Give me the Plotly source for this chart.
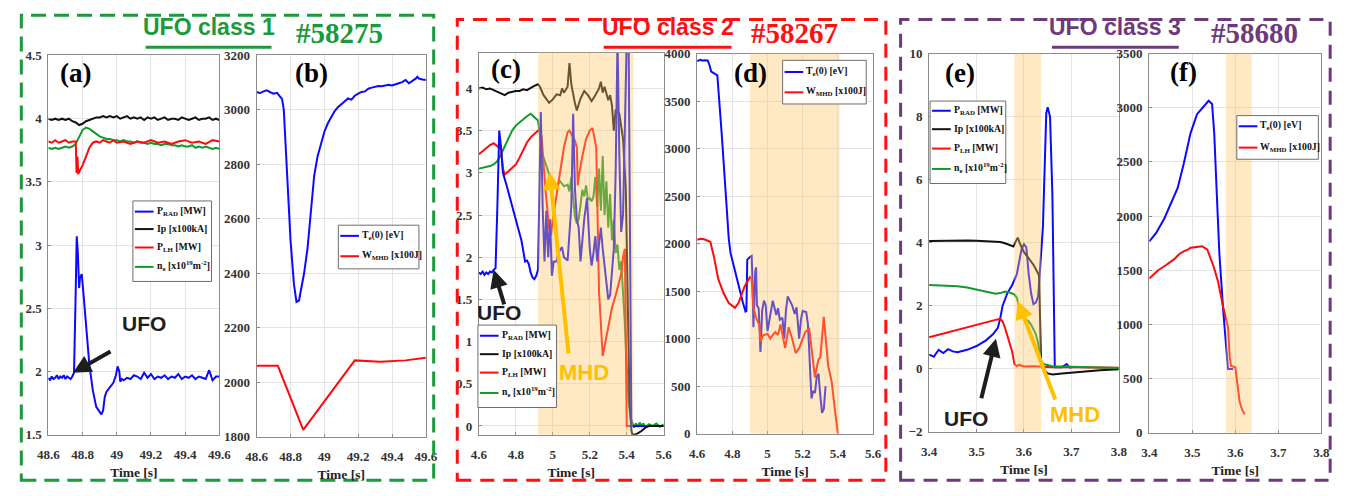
import plotly.graph_objects as go

W, H = 1351, 496

# ---------------- shot #58275 (panels a, b) ----------------
A_PRAD_T = [48.60, 48.61, 48.62, 48.63, 48.64, 48.65, 48.66, 48.67, 48.68, 48.69, 48.70, 48.71, 48.72, 48.73,
            48.74, 48.75, 48.758, 48.766, 48.772, 48.78, 48.785, 48.795, 48.80, 48.82, 48.84, 48.86, 48.88,
            48.90, 48.91, 48.92, 48.93, 48.94, 48.96, 48.98, 48.995, 49.005, 49.015, 49.02, 49.03, 49.04,
            49.06, 49.08, 49.10, 49.12, 49.14, 49.16, 49.18, 49.20, 49.22, 49.24, 49.26, 49.28, 49.30,
            49.32, 49.34, 49.36, 49.38, 49.40, 49.42, 49.44, 49.46, 49.48, 49.50, 49.52, 49.54, 49.56,
            49.58, 49.60]
A_PRAD = [1.95, 1.93, 1.96, 1.94, 1.95, 1.97, 1.94, 1.96, 1.95, 1.97, 1.94, 1.96, 1.95, 1.94,
          1.96, 1.99, 2.50, 3.07, 2.95, 2.66, 2.74, 2.77, 2.70, 2.35, 2.05, 1.85, 1.72,
          1.68, 1.66, 1.69, 1.80, 1.84, 1.88, 1.91, 1.97, 2.04, 2.00, 1.92, 1.94, 1.93,
          1.95, 1.94, 1.97, 1.96, 1.94, 1.99, 1.95, 1.98, 1.94, 1.96, 1.95, 1.97, 1.94,
          1.96, 1.95, 1.98, 1.94, 1.96, 1.95, 1.97, 1.94, 1.96, 1.95, 1.94, 2.01, 1.93,
          1.96, 1.96]

A_T = [48.60, 48.62, 48.64, 48.66, 48.68, 48.70, 48.72, 48.74, 48.76, 48.78, 48.80, 48.82, 48.84, 48.86,
       48.88, 48.90, 48.92, 48.94, 48.96, 48.98, 49.00, 49.02, 49.04, 49.06, 49.08, 49.10, 49.12, 49.14,
       49.16, 49.18, 49.20, 49.22, 49.24, 49.26, 49.28, 49.30, 49.32, 49.34, 49.36, 49.38, 49.40, 49.42,
       49.44, 49.46, 49.48, 49.50, 49.52, 49.54, 49.56, 49.58, 49.60]
A_IP = [4.00, 3.99, 4.00, 3.99, 4.00, 3.99, 4.00, 3.98, 3.97, 3.95, 3.96, 3.98, 3.99, 4.00,
        4.01, 4.01, 4.02, 4.01, 4.02, 4.01, 4.02, 4.00, 4.01, 4.02, 4.00, 4.01, 4.00, 4.01,
        3.99, 4.01, 4.00, 4.01, 3.99, 4.00, 4.01, 3.99, 4.00, 4.00, 3.99, 4.01, 4.00, 3.99,
        4.00, 4.01, 3.99, 4.00, 4.00, 4.01, 3.99, 4.00, 3.99]
A_NE = [3.77, 3.76, 3.77, 3.76, 3.77, 3.78, 3.77, 3.78, 3.80, 3.86, 3.91, 3.93, 3.92, 3.90,
        3.88, 3.86, 3.85, 3.84, 3.84, 3.83, 3.83, 3.82, 3.83, 3.82, 3.82, 3.81, 3.82, 3.81,
        3.81, 3.80, 3.81, 3.80, 3.80, 3.79, 3.80, 3.80, 3.79, 3.79, 3.78, 3.79, 3.78, 3.78,
        3.79, 3.77, 3.78, 3.77, 3.78, 3.77, 3.76, 3.77, 3.76]

A_PLH_T = [48.60, 48.62, 48.64, 48.66, 48.68, 48.70, 48.72, 48.74, 48.76, 48.765, 48.77, 48.775, 48.78,
           48.80, 48.82, 48.84, 48.86, 48.88, 48.90, 48.92, 48.94, 48.96, 48.98, 49.00, 49.04, 49.08,
           49.12, 49.16, 49.20, 49.24, 49.28, 49.32, 49.36, 49.40, 49.44, 49.48, 49.52, 49.56, 49.60]
A_PLH = [3.82, 3.81, 3.83, 3.81, 3.82, 3.83, 3.81, 3.82, 3.82, 3.57, 3.70, 3.56, 3.58,
         3.63, 3.70, 3.77, 3.81, 3.82, 3.81, 3.83, 3.82, 3.81, 3.83, 3.81, 3.82, 3.80,
         3.82, 3.81, 3.83, 3.81, 3.82, 3.80, 3.82, 3.83, 3.81, 3.82, 3.80, 3.83, 3.82]

B_TE_T = [48.60, 48.62, 48.64, 48.66, 48.68, 48.70, 48.72, 48.74, 48.75, 48.76, 48.78, 48.80, 48.82,
          48.835, 48.85, 48.86, 48.88, 48.90, 48.92, 48.94, 48.96, 48.98, 49.00, 49.02, 49.04, 49.06,
          49.08, 49.10, 49.12, 49.14, 49.16, 49.18, 49.20, 49.22, 49.24, 49.26, 49.28, 49.30, 49.32,
          49.34, 49.36, 49.38, 49.40, 49.42, 49.44, 49.46, 49.48, 49.50, 49.52, 49.54, 49.55, 49.56,
          49.58, 49.60]
B_TE = [3065, 3062, 3068, 3072, 3065, 3060, 3063, 3048, 3040, 3000, 2750, 2520, 2360,
        2295, 2300, 2330, 2400, 2490, 2620, 2760, 2830, 2880, 2920, 2950, 2975, 2995,
        3010, 3020, 3030, 3042, 3038, 3052, 3060, 3066, 3068, 3078, 3082, 3085, 3088,
        3087, 3090, 3092, 3090, 3095, 3098, 3102, 3110, 3098, 3105, 3115, 3122, 3115,
        3112, 3110]
B_WMHD_T = [48.60, 48.725, 48.875, 49.18, 49.33, 49.48, 49.60]
B_WMHD = [2060, 2060, 1825, 2080, 2075, 2080, 2090]

# ---------------- shot #58267 (panels c, d) ----------------
C_IP_T = [4.60, 4.62, 4.64, 4.66, 4.68, 4.70, 4.72, 4.74, 4.76, 4.78, 4.80, 4.82, 4.84, 4.86, 4.88,
          4.90, 4.92, 4.93, 4.95, 4.97, 4.98, 5.00, 5.02, 5.04, 5.05, 5.06, 5.08, 5.09, 5.10, 5.12,
          5.13, 5.15, 5.17, 5.19, 5.21, 5.23, 5.25, 5.26, 5.27, 5.28, 5.30, 5.31, 5.32, 5.33, 5.34,
          5.36, 5.38, 5.395, 5.405, 5.415, 5.425, 5.43, 5.45, 5.48, 5.50, 5.52, 5.56, 5.60]
C_IP = [4.00, 4.01, 3.99, 4.00, 3.98, 3.96, 3.94, 3.92, 3.95, 3.96, 3.97, 3.97, 3.99, 3.98, 4.01,
        4.03, 4.05, 4.02, 3.92, 3.86, 3.83, 3.87, 3.93, 3.92, 4.00, 3.95, 4.02, 4.30, 4.05, 3.82,
        3.74, 3.88, 3.97, 3.92, 3.85, 3.92, 4.00, 4.08, 3.95, 4.02, 3.86, 3.92, 3.80, 3.50, 3.75,
        3.70, 3.40, 2.80, 1.50, 0.30, -0.05, -0.10, -0.10, -0.06, -0.02, 0.00, 0.00, 0.00]

C_NE_T = [4.60, 4.62, 4.64, 4.66, 4.68, 4.70, 4.72, 4.74, 4.76, 4.78, 4.80, 4.82, 4.84, 4.86, 4.88,
          4.90, 4.92, 4.93, 4.94, 4.95, 4.96, 4.97, 4.98, 4.99, 5.00, 5.02, 5.04, 5.06, 5.08, 5.09,
          5.10, 5.11, 5.12, 5.13, 5.14, 5.15, 5.16, 5.17, 5.18, 5.19, 5.20, 5.21, 5.22, 5.23, 5.24,
          5.25, 5.26, 5.27, 5.28, 5.29, 5.30, 5.31, 5.32, 5.33, 5.34, 5.35, 5.36, 5.37, 5.38, 5.39,
          5.40, 5.41, 5.42, 5.43, 5.44, 5.45, 5.46, 5.47, 5.48, 5.49, 5.50, 5.52, 5.54, 5.56, 5.58,
          5.60]
C_NE = [3.05, 3.06, 3.07, 3.08, 3.10, 3.14, 3.22, 3.32, 3.42, 3.50, 3.56, 3.60, 3.64, 3.67, 3.70,
        3.66, 3.62, 3.45, 3.25, 3.18, 3.10, 3.05, 2.98, 2.92, 2.88, 2.85, 2.90, 2.84, 2.86, 2.78,
        2.95, 2.70, 2.48, 2.40, 2.45, 2.62, 2.80, 2.72, 2.85, 2.68, 2.70, 2.66, 2.72, 2.95, 2.60,
        3.05, 2.55, 3.20, 2.50, 2.90, 2.35, 2.75, 2.20, 2.45, 2.05, 2.15, 1.85, 1.95, 1.60, 1.20,
        0.70, 0.30, 0.10, 0.04, -0.02, 0.03, -0.01, 0.04, 0.00, 0.03, -0.02, 0.02, 0.00, 0.03, -0.01,
        0.02]

C_PLH_T = [4.60, 4.62, 4.64, 4.66, 4.68, 4.70, 4.72, 4.73, 4.74, 4.76, 4.78, 4.80, 4.82, 4.84, 4.86,
           4.88, 4.90, 4.92, 4.93, 4.94, 4.96, 4.98, 4.99, 5.00, 5.02, 5.04, 5.06, 5.08, 5.09, 5.12,
           5.13, 5.135, 5.14, 5.16, 5.18, 5.20, 5.215, 5.235, 5.243, 5.25, 5.27, 5.28, 5.30, 5.32,
           5.34, 5.36, 5.37, 5.38, 5.39, 5.395, 5.40, 5.45, 5.50, 5.60]
C_PLH = [3.22, 3.26, 3.30, 3.33, 3.35, 3.32, 3.28, 3.05, 2.98, 3.02, 3.06, 3.10, 3.18, 3.28, 3.36,
         3.42, 3.46, 3.50, 3.52, 3.42, 2.80, 2.35, 2.26, 2.45, 2.75, 3.05, 3.30, 3.48, 3.50, 3.38,
         3.30, 2.85, 2.95, 3.20, 3.40, 3.50, 3.53, 3.30, 2.30, 1.60, 0.83, 0.95, 1.20, 1.40,
         1.55, 1.70, 1.80, 2.00, 2.10, 1.00, 0.00, 0.00, 0.00, 0.00]

C_PRAD_T = [4.60, 4.61, 4.62, 4.63, 4.64, 4.65, 4.66, 4.67, 4.68, 4.69, 4.70, 4.71, 4.72, 4.73, 4.75,
            4.77, 4.79, 4.81, 4.83, 4.84, 4.85, 4.86, 4.87, 4.88, 4.89, 4.90, 4.91, 4.92, 4.935, 4.945,
            4.955, 4.965, 4.975, 4.985, 4.995, 5.005, 5.02, 5.03, 5.05, 5.06, 5.08, 5.10, 5.11, 5.12,
            5.13, 5.14, 5.15, 5.17, 5.185, 5.20, 5.21, 5.22, 5.23, 5.24, 5.25, 5.26, 5.27, 5.28, 5.29,
            5.30, 5.31, 5.32, 5.33, 5.34, 5.35, 5.36, 5.37, 5.38, 5.39, 5.40, 5.41, 5.415, 5.42, 5.425,
            5.45, 5.50]
C_PRAD = [1.82, 1.80, 1.83, 1.79, 1.82, 1.80, 1.83, 1.82, 1.85, 1.87, 2.60, 3.50, 3.30, 3.00, 2.85,
          2.68, 2.50, 2.36, 2.20, 2.05, 1.95, 1.96, 1.92, 1.82, 1.76, 1.74, 1.78, 1.85, 3.72, 2.60,
          1.95, 2.55, 2.00, 2.45, 1.78, 1.95, 1.95, 2.05, 2.12, 2.00, 1.96, 2.60, 3.70, 2.80,
          2.45, 2.35, 1.95, 2.45, 2.70, 2.10, 1.90, 2.05, 2.25, 1.95, 2.15, 2.35, 2.10, 1.90, 1.70,
          1.50, 1.55, 1.85, 2.10, 3.00, 4.60, 3.20, 2.30, 2.50, 3.50, 4.60, 4.60, 3.00, 1.00, 0.00,
          0.00, 0.00]

D_TE_T = [4.60, 4.62, 4.63, 4.64, 4.66, 4.67, 4.68, 4.70, 4.715, 4.74, 4.76, 4.78, 4.79, 4.80, 4.81,
          4.82, 4.84, 4.86, 4.875, 4.88, 4.885, 4.90, 4.91, 4.915, 4.92, 4.93, 4.935, 4.94, 4.95, 4.96,
          4.97, 4.98, 4.99, 5.00, 5.01, 5.03, 5.05, 5.06, 5.07, 5.085, 5.095, 5.105, 5.115, 5.125, 5.14,
          5.155, 5.165, 5.18, 5.19, 5.20, 5.22, 5.23, 5.24, 5.25, 5.26, 5.27, 5.28, 5.29, 5.30, 5.31,
          5.32, 5.33]
D_TE = [3920, 3935, 3925, 3930, 3928, 3880, 3810, 3790, 3770, 3150, 2580, 2050, 1900, 1820, 1760,
        1680, 1530, 1380, 1285, 1290, 1830, 1860, 1870, 1600, 1120, 1700, 1750, 1350, 1320, 860,
        1300, 1400, 1350, 1080, 1200, 1400, 1250, 1320, 1200, 1220, 1000, 1300, 1445, 1400, 1350,
        1260, 1330, 1000, 1200, 1290, 1280, 1150, 700, 370, 450, 430, 600, 630, 400, 220,
        260, 500]
D_WMHD_T = [4.60, 4.62, 4.64, 4.66, 4.675, 4.695, 4.72, 4.75, 4.78, 4.815, 4.835, 4.87, 4.90, 4.91,
            4.92, 4.935, 4.955, 4.96, 4.975, 5.00, 5.016, 5.03, 5.045, 5.06, 5.074, 5.10, 5.12, 5.14,
            5.16, 5.18, 5.215, 5.2375, 5.255, 5.27, 5.28, 5.29, 5.30, 5.32, 5.345, 5.365, 5.38,
            5.395, 5.40]
D_WMHD = [2040, 2050, 2045, 2035, 2020, 1866, 1629, 1480, 1375, 1324, 1375, 1550, 1647, 1630,
          1324, 1222, 1137, 967, 1035, 1050, 1000, 1040, 1070, 1040, 1150, 900, 1120, 1000,
          848, 900, 1070, 1100, 850, 590, 700, 784, 800, 1230, 713, 544, 300,
          20, 0]

# ---------------- shot #58680 (panels e, f) ----------------
E_IP_T = [3.40, 3.42, 3.44, 3.46, 3.48, 3.50, 3.52, 3.54, 3.55, 3.56, 3.57, 3.578, 3.583, 3.587,
          3.592, 3.60, 3.61, 3.62, 3.63, 3.632, 3.636, 3.64, 3.65, 3.66, 3.68, 3.70, 3.72, 3.74, 3.76,
          3.78, 3.80]
E_IP = [4.05, 4.06, 4.06, 4.07, 4.07, 4.06, 4.05, 4.04, 4.02, 3.98, 3.93, 3.88, 4.05, 4.16,
        3.95, 3.70, 3.50, 3.30, 3.02, 2.95, 0.20, 0.00, -0.15, -0.18, -0.15, -0.12, -0.10, -0.08, -0.05,
        -0.03, -0.02]
E_NE_T = [3.40, 3.42, 3.44, 3.46, 3.48, 3.50, 3.52, 3.54, 3.55, 3.56, 3.57, 3.58, 3.585, 3.59, 3.595,
          3.60, 3.605, 3.61, 3.615, 3.62, 3.625, 3.63, 3.635, 3.64, 3.66, 3.70, 3.75, 3.80]
E_NE = [2.66, 2.65, 2.64, 2.62, 2.58, 2.52, 2.45, 2.38, 2.40, 2.45, 2.42, 2.35, 2.25, 1.95, 1.75,
        1.68, 1.55, 1.50, 1.40, 1.25, 1.10, 0.80, 0.30, 0.15, 0.08, 0.06, 0.04, 0.02]
E_PLH_T = [3.40, 3.42, 3.44, 3.46, 3.48, 3.50, 3.52, 3.54, 3.55, 3.555, 3.56, 3.565, 3.57, 3.575,
           3.58, 3.585, 3.59, 3.60, 3.62, 3.64, 3.66, 3.70, 3.75, 3.80]
E_PLH = [1.00, 1.08, 1.15, 1.25, 1.32, 1.40, 1.47, 1.55, 1.58, 1.50, 1.30, 1.05, 0.85, 0.55,
         0.15, 0.08, 0.12, 0.07, 0.08, 0.06, 0.05, 0.05, 0.04, 0.03]
E_PRAD_T = [3.40, 3.41, 3.42, 3.43, 3.44, 3.45, 3.46, 3.47, 3.48, 3.50, 3.52, 3.535, 3.545, 3.55,
            3.555, 3.565, 3.575, 3.585, 3.59, 3.595, 3.60, 3.605, 3.61, 3.615, 3.62, 3.625, 3.63,
            3.64, 3.647, 3.65, 3.655, 3.66, 3.665, 3.68, 3.69, 3.695, 3.70]
E_PRAD = [0.45, 0.38, 0.60, 0.50, 0.62, 0.55, 0.52, 0.55, 0.60, 0.72, 0.90, 1.10, 1.30, 1.60,
          2.00, 2.40, 2.65, 3.00, 3.40, 3.80, 3.95, 3.85, 3.00, 2.40, 2.05, 2.10, 2.30,
          4.50, 8.10, 8.30, 8.00, 5.50, 0.05, 0.05, 0.15, 0.05, 0.03]

F_TE_T = [3.40, 3.416, 3.435, 3.45, 3.466, 3.48, 3.496, 3.511, 3.526, 3.538, 3.546, 3.551, 3.557,
          3.563, 3.572, 3.583, 3.595]
F_TE = [1766, 1844, 1978, 2110, 2259, 2480, 2766, 2940, 3010, 3064, 3035, 2766, 2200,
        1650, 1125, 588, 588]
F_WMHD_T = [3.40, 3.42, 3.44, 3.458, 3.47, 3.481, 3.49, 3.496, 3.51, 3.523, 3.535, 3.541, 3.55,
            3.56, 3.572, 3.583, 3.587, 3.59, 3.60, 3.61, 3.616, 3.622]
F_WMHD = [1423, 1498, 1550, 1602, 1650, 1677, 1690, 1707, 1715, 1722, 1690, 1632, 1530,
          1394, 1155, 976, 700, 618, 603, 289, 210, 170]

# legend labels
L_PRAD = "P<sub>RAD</sub> [MW]"
L_IP = "Ip [x100kA]"
L_PLH = "P<sub>LH</sub> [MW]"
L_NE = "n<sub>e</sub> [x10<sup>19</sup>m<sup>-2</sup>]"
L_TE = "T<sub>e</sub>(0) [eV]"
L_WMHD = "W<sub>MHD</sub> [x100J]"

BLUE, BLACK, RED, GREEN = "#0a0aff", "#111111", "#ff0a0a", "#109a2a"
SERIF = "Liberation Serif, Times New Roman, serif"
SANS = "Liberation Sans, Arial, sans-serif"


def px(x):
    return x / W


def py(y):
    return 1 - y / H


fig = go.Figure()


def add(t, v, name, color, n, width=2):
    fig.add_trace(go.Scatter(
        x=t, y=v, name=name, mode="lines", showlegend=False,
        line=dict(color=color, width=width),
        xaxis="x" if n == 1 else f"x{n}", yaxis="y" if n == 1 else f"y{n}"))


# panel (a)
add(A_T, A_IP, L_IP, BLACK, 1)
add(A_T, A_NE, L_NE, GREEN, 1)
add(A_PLH_T, A_PLH, L_PLH, RED, 1)
add(A_PRAD_T, A_PRAD, L_PRAD, BLUE, 1)
# panel (b)
add(B_TE_T, B_TE, L_TE, BLUE, 2)
add(B_WMHD_T, B_WMHD, L_WMHD, RED, 2)
# panel (c)
add(C_NE_T, C_NE, L_NE, GREEN, 3)
add(C_PLH_T, C_PLH, L_PLH, RED, 3)
add(C_IP_T, C_IP, L_IP, BLACK, 3)
add(C_PRAD_T, C_PRAD, L_PRAD, BLUE, 3)
# panel (d)
add(D_TE_T, D_TE, L_TE, BLUE, 4)
add(D_WMHD_T, D_WMHD, L_WMHD, RED, 4)
# panel (e)
add(E_PRAD_T, E_PRAD, L_PRAD, BLUE, 5)
add(E_IP_T, E_IP, L_IP, BLACK, 5)
add(E_PLH_T, E_PLH, L_PLH, RED, 5)
add(E_NE_T, E_NE, L_NE, GREEN, 5)
# panel (f)
add(F_TE_T, F_TE, L_TE, BLUE, 6)
add(F_WMHD_T, F_WMHD, L_WMHD, RED, 6)

# axes: pixel boxes (left, top, right, bottom), x range, x tick step, y range, y tick step, y tick origin
PANELS = [
    ((38, 50, 212, 441), (48.6, 49.6), 0.2, (1.5, 4.5), 0.5, 1.5),
    ((250, 50, 422, 443), (48.6, 49.6), 0.2, (1800, 3200), 200, 1800),
    ((476, 47, 664, 441), (4.6, 5.6), 0.2, (-0.103, 4.425), 0.5, 0),
    ((698, 48, 877, 440), (4.6, 5.6), 0.2, (0, 4000), 500, 0),
    ((934, 48, 1127, 438), (3.4, 3.8), 0.1, (-2, 10), 2, -2),
    ((1158, 48, 1333, 439), (3.4, 3.8), 0.1, (0, 3500), 500, 0),
]

tickfont = dict(family=SERIF, size=13, color="#333333", weight="bold")
layout = {}
for i, (box, xr, xd, yr, yd, y0) in enumerate(PANELS, start=1):
    l, t, r, b = box
    sfx = "" if i == 1 else str(i)
    common = dict(showgrid=True, gridcolor="#e4e4e4", gridwidth=1,
                  showline=True, mirror=True, linecolor="#8c8c8c", linewidth=1.2,
                  ticks="inside", ticklen=3, tickcolor="#8c8c8c", zeroline=False,
                  tickfont=tickfont)
    layout[f"xaxis{sfx}"] = dict(
        domain=[px(l), px(r)], range=list(xr), dtick=xd, tick0=xr[0], anchor=f"y{sfx}",
        ticklabelstandoff=8,
        title=dict(text="Time [s]", standoff=6,
                   font=dict(family=SERIF, size=13.5, color="#222222", weight="bold")),
        **common)
    layout[f"yaxis{sfx}"] = dict(
        domain=[py(b), py(t)], range=list(yr), dtick=yd, tick0=y0, anchor=f"x{sfx}",
        ticklabelstandoff=3, **common)

fig.update_layout(**layout)

# event windows (MHD activity)
SHADE = [(3, 4.92, 5.435), (4, 4.90, 5.41), (5, 3.58, 3.636), (6, 3.578, 3.638)]
for n, a, bnd in SHADE:
    fig.add_shape(type="rect", xref=f"x{n}", yref=f"y{n} domain", x0=a, x1=bnd, y0=0, y1=1,
                  fillcolor="rgba(252,198,100,0.38)", line=dict(width=0), layer="above")

# dashed frames around each shot
FRAMES = [((10.5, 8.5, 430, 488), "#1a9a3c", "15px,8px"),
          ((454, 13, 890, 488), "#ff1010", "14px,9px"),
          ((905, 13, 1342, 488), "#6e3a7c", "14px,9px")]
for (l, t, r, b), col, dash in FRAMES:
    fig.add_shape(type="rect", xref="paper", yref="paper", x0=px(l), x1=px(r), y0=py(b), y1=py(t),
                  line=dict(color=col, width=3, dash=dash), fillcolor="rgba(0,0,0,0)")

ann = []

# legend boxes: (left, top, right, bottom), entries (label, colour, row centre y)
LEGENDS = [
    ((124, 200, 204, 283), [(L_PRAD, BLUE, 211), (L_IP, BLACK, 229), (L_PLH, RED, 248), (L_NE, GREEN, 268)]),
    ((333, 225, 415, 270), [(L_TE, BLUE, 236), (L_WMHD, RED, 257)]),
    ((475, 328, 555, 413), [(L_PRAD, BLUE, 339), (L_IP, BLACK, 358), (L_PLH, RED, 377), (L_NE, GREEN, 398)]),
    ((785, 55, 870, 100), [(L_TE, BLUE, 67), (L_WMHD, RED, 88)]),
    ((935, 97, 1012, 182), [(L_PRAD, BLUE, 107), (L_IP, BLACK, 126), (L_PLH, RED, 146), (L_NE, GREEN, 167)]),
    ((1247, 112, 1330, 157), [(L_TE, BLUE, 123), (L_WMHD, RED, 145)]),
]
for (l, t, r, b), entries in LEGENDS:
    fig.add_shape(type="rect", xref="paper", yref="paper", x0=px(l), x1=px(r), y0=py(b), y1=py(t),
                  line=dict(color="#6e6e6e", width=1), fillcolor="white", layer="above")
    for label, col, ry in entries:
        fig.add_shape(type="line", xref="paper", yref="paper", x0=px(l + 2), x1=px(l + 21),
                      y0=py(ry), y1=py(ry), line=dict(color=col, width=2), layer="above")
        ann.append(dict(text=label, x=px(l + 22), y=py(ry - 1), xref="paper", yref="paper",
                        showarrow=False, xanchor="left", yanchor="middle",
                        font=dict(family=SERIF, size=9.8, color="#111111", weight="bold")))

# headers with underlined class names
HEADERS = [("UFO class 1", "#58275", "#1a9a3c", (137, 265), 334),
           ("UFO class 2", "#58267", "#ff1010", (603, 733), 797),
           ("UFO class 3", "#58680", "#6e3a7c", (1059, 1188), 1265)]
for title, shot, col, (u0, u1), xs in HEADERS:
    ann.append(dict(text=title, x=px((u0 + u1) / 2), y=py(21), xref="paper", yref="paper",
                    showarrow=False, xanchor="center", yanchor="middle",
                    font=dict(family=SANS, size=23, color=col, weight="bold")))
    fig.add_shape(type="line", xref="paper", yref="paper", x0=px(u0), x1=px(u1),
                  y0=py(41.5), y1=py(41.5), line=dict(color=col, width=3), layer="above")
    ann.append(dict(text=shot, x=px(xs), y=py(27), xref="paper", yref="paper",
                    showarrow=False, xanchor="center", yanchor="middle",
                    font=dict(family=SERIF, size=29, color=col, weight="bold")))

# panel letters
for lab, (xl, yl) in zip(["(a)", "(b)", "(c)", "(d)", "(e)", "(f)"],
                         [(66, 68), (306, 68), (504, 64), (752, 68), (965, 68), (1193, 67)]):
    ann.append(dict(text=lab, x=px(xl), y=py(yl), xref="paper", yref="paper", showarrow=False,
                    xanchor="center", yanchor="middle",
                    font=dict(family=SERIF, size=27, color="black", weight="bold")))

# event labels
for txt, col, (xl, yl), fs in [("UFO", "#1e1e1e", (135, 326), 21), ("UFO", "#1e1e1e", (496, 315), 21),
                               ("UFO", "#1e1e1e", (972, 424), 21), ("MHD", "#ffc000", (583, 377), 22),
                               ("MHD", "#ffc000", (1082, 420), 22)]:
    ann.append(dict(text=txt, x=px(xl), y=py(yl), xref="paper", yref="paper", showarrow=False,
                    xanchor="center", yanchor="middle",
                    font=dict(family=SANS, size=fs, color=col, weight="bold")))

# arrows pointing at the events (tip in data units, tail offset in pixels)
for xr_, yr_, tx, ty, ax, ay, col in [("x", "y", 48.744, 1.99, 39, -22, "#1e1e1e"),
                                      ("x3", "y3", 4.68, 1.85, 11, 36, "#1e1e1e"),
                                      ("x3", "y3", 4.983, 3.01, 19, 183, "#ffc000"),
                                      ("x5", "y5", 3.541, 0.95, -15, 61, "#1e1e1e"),
                                      ("x5", "y5", 3.587, 2.15, 38, 100, "#ffc000")]:
    ann.append(dict(text="", x=tx, y=ty, xref=xr_, yref=yr_, ax=ax, ay=ay, showarrow=True,
                    arrowhead=2, arrowsize=0.9, arrowwidth=4, arrowcolor=col))

fig.update_layout(annotations=ann, width=W, height=H, autosize=False, showlegend=False,
                  margin=dict(l=0, r=0, t=0, b=0), paper_bgcolor="white", plot_bgcolor="white")

fig.write_html("out.html")
